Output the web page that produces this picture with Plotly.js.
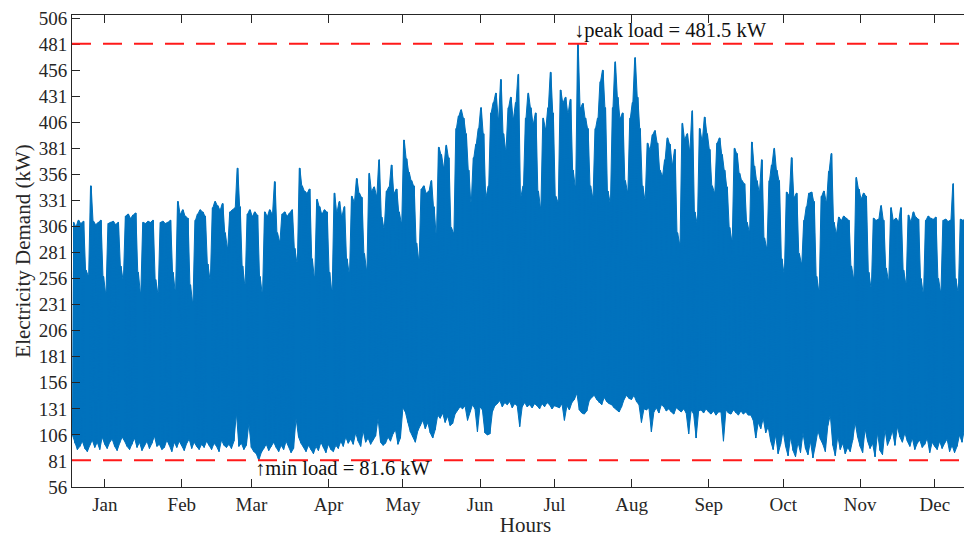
<!DOCTYPE html>
<html>
<head>
<meta charset="utf-8">
<script src="https://cdn.plot.ly/plotly-3.0.1.min.js"></script>
<style>
html,body{margin:0;padding:0;background:#fff;overflow:hidden;}
#chart{width:990px;height:537px;}
</style>
</head>
<body>
<div id="chart"></div>
<script>
// Daily peak demand (kW), one row per week (Mon..Sun)
const dailyMax = [
  310,306,312,309,311,264,259,
  345,311,308,310,312,258,243,
  309,310,311,308,310,268,256,
  316,318,314,317,319,262,243,
  310,309,311,310,312,255,243,
  310,311,309,310,312,262,245,
  330,318,322,316,314,250,234,
  312,318,322,320,316,270,256,
  324,330,326,322,328,300,286,
  320,322,324,362,325,268,251,
  318,322,316,320,317,258,243,
  320,316,322,318,349,300,292,
  318,320,316,319,322,285,272,
  362,345,340,338,342,275,258,
  332,325,318,322,320,262,245,
  338,320,330,316,325,275,262,
  335,330,352,338,334,280,265,
  357,340,344,336,370,315,305,
  340,344,365,338,342,320,310,
  389,371,358,350,345,290,275,
  342,345,338,340,350,325,300,
  382,375,363,384,372,305,300,
  400,412,418,410,395,360,330,
  372,385,400,420,395,335,345,
  415,425,434,410,447,395,380,
  420,430,410,425,452,335,345,
  410,434,420,405,415,340,325,
  410,400,420,454,415,335,330,
  437,425,430,415,428,360,345,
  481.5,420,424,410,400,345,335,
  400,410,445,456,420,340,330,
  420,464,430,410,415,350,340,
  410,425,468,430,400,345,333,
  386,380,394,398,386,360,355,
  370,391,385,366,380,300,290,
  405,390,395,380,417,320,310,
  400,389,411,395,380,345,339,
  386,391,375,360,344,305,293,
  381,376,357,350,347,310,302,
  387,364,350,340,370,295,286,
  350,365,381,360,350,275,262,
  339,336,372,334,338,280,271,
  312,325,338,339,330,258,245,
  335,340,330,359,376,310,300,
  315,312,316,314,312,268,257,
  353,342,333,338,335,262,248,
  314,312,313,326,312,266,255,
  324,312,314,311,324,264,252,
  317,311,320,315,313,256,243,
  312,316,314,313,315,256,244,
  312,313,311,312,347,256,244,
  313,312,314,311,313,260,248,
  312
];

// Daily minimum (night) demand (kW), one row per week
const dailyMin = [
  106,98,92,95,100,93,90,
  96,101,94,99,92,104,97,
  93,99,102,95,91,98,104,
  100,95,92,97,103,94,99,
  91,96,100,93,98,105,95,
  97,92,94,101,96,90,99,
  94,100,96,91,98,102,93,
  99,95,92,97,94,100,96,
  92,98,95,90,101,96,94,
  97,93,100,127,95,98,92,
  96,117,94,90,88,81.6,89,
  93,97,91,95,99,94,90,
  96,92,100,95,89,93,122,
  104,98,94,90,96,92,88,
  95,91,99,94,89,97,92,
  90,96,93,100,95,104,98,
  102,97,108,100,95,110,99,
  103,97,101,105,122,99,96,
  98,104,100,107,111,97,103,
  132,128,118,109,104,99,110,
  115,120,112,118,108,103,111,
  125,122,127,118,124,115,117,
  126,130,133,131,134,120,128,
  135,131,109,133,130,108,106,
  107,128,134,136,139,133,137,
  135,138,132,136,134,114,133,
  137,133,135,132,136,134,131,
  136,133,137,135,131,134,133,
  132,136,120,134,130,137,140,
  146,130,127,126,129,139,142,
  144,140,137,135,142,138,136,
  135,132,130,128,133,140,144,
  141,140,144,138,135,118,131,
  130,132,109,128,132,127,135,
  133,129,131,128,126,132,130,
  128,131,127,107,130,126,103,
  129,130,127,131,128,126,129,
  125,128,128,100,130,127,126,
  130,127,125,129,126,128,125,
  125,120,103,118,112,122,108,
  114,100,92,106,88,97,110,
  95,86,104,91,85,99,89,
  108,93,87,100,84,96,110,
  102,97,90,115,125,96,86,
  105,92,98,88,94,90,101,
  118,104,95,89,112,100,93,
  98,85,108,91,87,111,96,
  102,110,96,114,104,99,108,
  100,95,103,92,98,101,94,
  97,103,89,99,95,92,100,
  93,98,102,90,96,89,95,
  106,99,112,101,97,104,108,
  100
];

const monthLabels = ['Jan','Feb','Mar','Apr','May','Jun','Jul','Aug','Sep','Oct','Nov','Dec'];
const monthDays = [31,28,31,30,31,30,31,31,30,31,30,31];
const yTicks = [56,81,106,131,156,181,206,231,256,281,306,331,356,381,406,431,456,481,506];

// Each day: night minimum, then the daily peak held over the working hours
const minX = [], minY = [], maxX = [], maxY = [], hx = [], hy = [];
for (let d = 0; d < dailyMax.length; d++) {
  minX.push(d*24 + 4); minY.push(dailyMin[d]);
  maxX.push(d*24 + 11, d*24 + 17); maxY.push(dailyMax[d], dailyMax[d]);
  hx.push(d*24 + 4, d*24 + 11, d*24 + 17);
  hy.push(dailyMin[d], dailyMax[d], dailyMax[d]);
}

const peakVal = Math.max(...dailyMax);
const peakDay = dailyMax.indexOf(peakVal);
const minVal = Math.min(...dailyMin);
const minDay = dailyMin.indexOf(minVal);

const tickVals = [];
let cum = 0;
for (let m = 0; m < 12; m++) { tickVals.push((cum + 13.2) * 24); cum += monthDays[m]; }

const FONT = 'Liberation Serif, Times New Roman, serif';
const INK = '#262626';
const BLUE = '#0072BD';

const traces = [
  {type: 'scatter', mode: 'lines', x: minX, y: minY,
   line: {color: BLUE, width: 1}, hoverinfo: 'skip'},
  {type: 'scatter', mode: 'lines', x: maxX, y: maxY,
   line: {color: BLUE, width: 1}, fill: 'tonexty', fillcolor: BLUE, hoverinfo: 'skip'},
  {type: 'scatter', mode: 'lines', x: hx, y: hy,
   line: {color: BLUE, width: 1}, hoverinfo: 'skip'}
];

const layout = {
  width: 990, height: 537,
  margin: {l: 72, r: 10.5, t: 15, b: 50},
  paper_bgcolor: '#fff', plot_bgcolor: '#fff',
  showlegend: false, hovermode: false,
  font: {family: FONT, color: INK, size: 19},
  xaxis: {
    range: [0, 8760],
    tickvals: tickVals, ticktext: monthLabels,
    ticks: 'inside', ticklen: 8, tickcolor: INK, tickwidth: 1,
    showline: true, linecolor: INK, linewidth: 1, mirror: 'ticks',
    showgrid: false, zeroline: false,
    tickfont: {family: FONT, size: 19, color: INK},
    title: {text: 'Hours', font: {family: FONT, size: 21, color: INK}, standoff: 11}
  },
  yaxis: {
    range: [56, 509],
    tickvals: yTicks, ticktext: yTicks.map(String),
    ticks: 'inside', ticklen: 8, tickcolor: INK, tickwidth: 1,
    showline: true, linecolor: INK, linewidth: 1, mirror: 'ticks',
    showgrid: false, zeroline: false,
    tickfont: {family: FONT, size: 19, color: INK},
    title: {text: 'Electricity Demand (kW)', font: {family: FONT, size: 21, color: INK}, standoff: 2}
  },
  shapes: [
    {type: 'line', xref: 'paper', x0: 0, x1: 1, yref: 'y', y0: peakVal, y1: peakVal,
     line: {color: '#ff1a1a', width: 2, dash: '19px,12px'}},
    {type: 'line', xref: 'paper', x0: 0, x1: 1, yref: 'y', y0: minVal, y1: minVal,
     line: {color: '#ff1a1a', width: 2, dash: '19px,12px'}}
  ],
  annotations: [
    {x: peakDay*24 + 14, y: peakVal, xref: 'x', yref: 'y',
     text: '\u2193peak load = ' + peakVal.toFixed(1) + ' kW', showarrow: false,
     xanchor: 'left', yanchor: 'middle', xshift: -6, yshift: 13,
     font: {family: FONT, size: 20.5, color: '#111'}},
    {x: minDay*24 + 4, y: minVal, xref: 'x', yref: 'y',
     text: '\u2191min load = ' + minVal.toFixed(1) + ' kW', showarrow: false,
     xanchor: 'left', yanchor: 'middle', xshift: -6, yshift: -8,
     font: {family: FONT, size: 20.5, color: '#111'}}
  ]
};

Plotly.newPlot('chart', traces, layout, {displayModeBar: false, staticPlot: true});
</script>
</body>
</html>
